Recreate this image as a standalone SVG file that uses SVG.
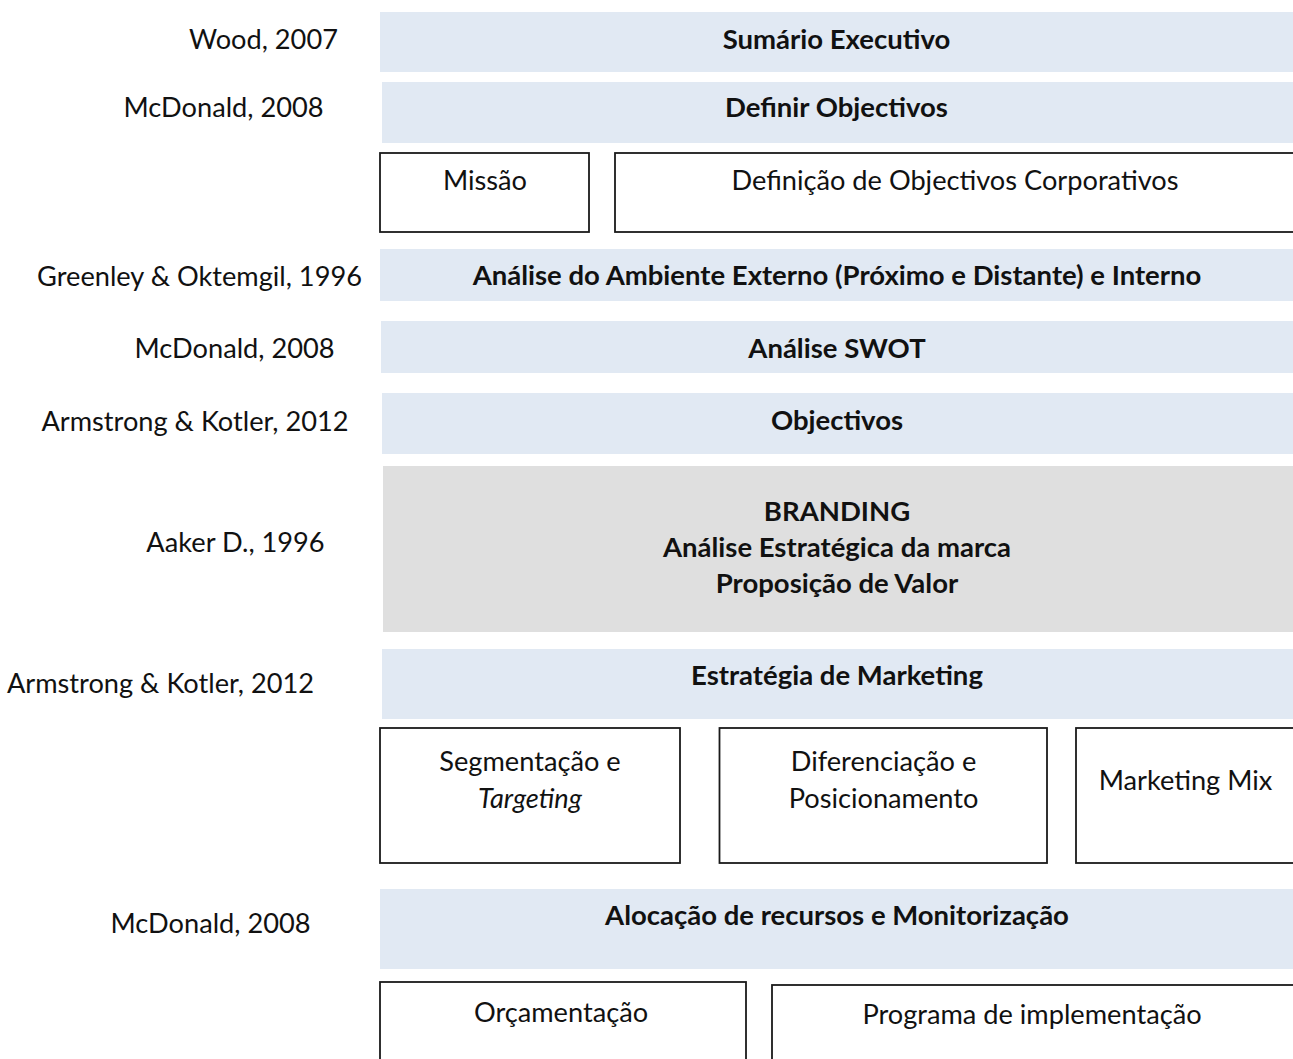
<svg xmlns="http://www.w3.org/2000/svg" width="1293" height="1059" viewBox="0 0 1293 1059">
  <style>
    .band { fill: #e1e9f3; }
    .brand { fill: #dfdfdf; }
    .box { fill: #ffffff; stroke: #1a1a1a; stroke-width: 1.8; }
    text { font-family: "Lato", "Open Sans", "Liberation Sans", sans-serif; font-size: 27.2px; fill: #111111; }
    .title { font-weight: bold; font-size: 27.5px; text-anchor: middle; }
    .item { text-anchor: middle; }
    .ref { text-anchor: middle; }
  </style>
  <rect width="1293" height="1059" fill="#ffffff"/>

  <!-- author references, left column -->
  <g id="references">
    <text class="ref" x="263.5" y="49">Wood, 2007</text>
    <text class="ref" x="223.5" y="117">McDonald, 2008</text>
    <text class="ref" x="199.5" y="286">Greenley &amp; Oktemgil, 1996</text>
    <text class="ref" x="234.5" y="358">McDonald, 2008</text>
    <text class="ref" x="195" y="431">Armstrong &amp; Kotler, 2012</text>
    <text class="ref" x="235.5" y="552">Aaker D., 1996</text>
    <text class="ref" x="160.5" y="693">Armstrong &amp; Kotler, 2012</text>
    <text class="ref" x="210.5" y="933">McDonald, 2008</text>
  </g>

  <g id="sumario">
    <rect class="band" x="380" y="12" width="913" height="60"/>
    <text class="title" x="836.5" y="49">Sumário Executivo</text>
  </g>
  <g id="definir-objectivos">
    <rect class="band" x="382" y="82" width="911" height="61"/>
    <text class="title" x="836.5" y="117">Definir Objectivos</text>
  </g>
  <g id="missao">
    <rect class="box" x="380" y="153" width="209" height="79"/>
    <text class="item" x="485" y="190">Missão</text>
  </g>
  <g id="objectivos-corporativos">
    <rect class="box" x="615" y="153" width="690" height="79"/>
    <text class="item" x="955" y="190">Definição de Objectivos Corporativos</text>
  </g>
  <g id="analise-ambiente">
    <rect class="band" x="380" y="249" width="913" height="52"/>
    <text class="title" x="837" y="285">Análise do Ambiente Externo (Próximo e Distante) e Interno</text>
  </g>
  <g id="swot">
    <rect class="band" x="381" y="321" width="912" height="52"/>
    <text class="title" x="837" y="358">Análise SWOT</text>
  </g>
  <g id="objectivos">
    <rect class="band" x="382" y="393" width="911" height="61"/>
    <text class="title" x="837" y="430">Objectivos</text>
  </g>
  <g id="branding">
    <rect class="brand" x="383" y="466" width="910" height="166"/>
    <text class="title" x="837" y="521">BRANDING</text>
    <text class="title" x="837" y="557">Análise Estratégica da marca</text>
    <text class="title" x="837" y="593">Proposição de Valor</text>
  </g>
  <g id="estrategia-marketing">
    <rect class="band" x="382" y="649" width="911" height="70"/>
    <text class="title" x="837" y="685">Estratégia de Marketing</text>
  </g>
  <g id="segmentacao">
    <rect class="box" x="380" y="728" width="300" height="135"/>
    <text class="item" x="530" y="771">Segmentação e</text>
    <text class="item" x="530" y="808" font-style="italic">Targeting</text>
  </g>
  <g id="diferenciacao">
    <rect class="box" x="719.5" y="728" width="327.5" height="135"/>
    <text class="item" x="883.5" y="771">Diferenciação e</text>
    <text class="item" x="883.5" y="808">Posicionamento</text>
  </g>
  <g id="marketing-mix">
    <rect class="box" x="1076" y="728" width="229" height="135"/>
    <text class="item" x="1185.5" y="790">Marketing Mix</text>
  </g>
  <g id="alocacao">
    <rect class="band" x="380" y="889" width="913" height="80"/>
    <text class="title" x="837" y="925">Alocação de recursos e Monitorização</text>
  </g>
  <g id="orcamentacao">
    <rect class="box" x="380" y="982" width="366" height="100"/>
    <text class="item" x="561" y="1022">Orçamentação</text>
  </g>
  <g id="programa">
    <rect class="box" x="772" y="985" width="533" height="100"/>
    <text class="item" x="1032" y="1024">Programa de implementação</text>
  </g>

  <!-- the outline has no connectors; kept for structure -->
  <g id="connectors"/>
</svg>
